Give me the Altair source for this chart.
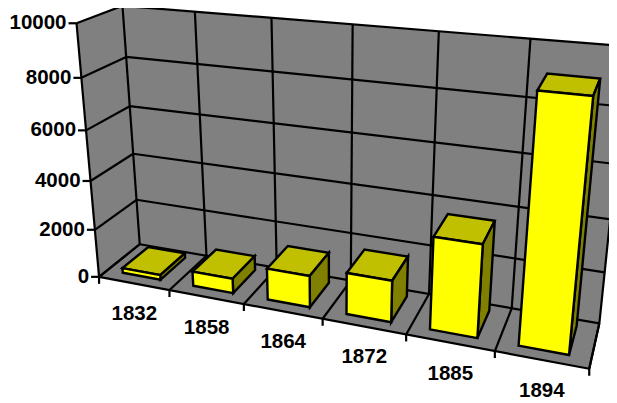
import altair as alt
import numpy as np
import pandas as pd

years = ["1832", "1858", "1864", "1872", "1885", "1894"]
values = [200, 600, 1270, 1640, 3550, 9000]
y_ticks = [0, 2000, 4000, 6000, 8000, 10000]
VMAX = 10000
BAR_U = (0.222, 0.765)
BAR_D = (0.2, 0.85)

# View calibration: (category pos, depth, height) -> page pixel, solved as a pinhole projection
calib = [
    (0, 0, 0, 100, 277), (0, 1, 0, 138, 243), (0, 0, 1, 76, 23), (0, 1, 1, 123, 6),
    (1, 0, 0, 589, 368), (1, 1, 0, 598, 323), (1, 1, 1, 630, 45),
    (1/6, 0, 0, 170, 290), (2/6, 0, 0, 244, 305), (3/6, 0, 0, 322, 318),
    (4/6, 0, 0, 407, 335), (5/6, 0, 0, 494, 352),
    (1/6, 1, 1, 195, 12), (2/6, 1, 1, 272, 18), (3/6, 1, 1, 352, 24),
    (4/6, 1, 1, 438, 32), (5/6, 1, 1, 529, 39),
    (1/6, 1, 0, 205, 255), (2/6, 1, 0, 277, 268), (3/6, 1, 0, 352, 281),
    (4/6, 1, 0, 432, 295), (5/6, 1, 0, 511, 308),
    (0, 0, 0.8, 81, 77), (0, 1, 0.8, 127, 58),
]
A, b = [], []
for u, d, v, px, py in calib:
    p = [u, d, v, 1]
    A.append(p + [0, 0, 0, 0] + [-px * u, -px * d, -px * v])
    A.append([0, 0, 0, 0] + p + [-py * u, -py * d, -py * v])
    b += [px, py]
h = np.linalg.lstsq(np.array(A, float), np.array(b, float), rcond=None)[0]


def proj(u, d, v):
    w = h[8] * u + h[9] * d + h[10] * v + 1
    return ((h[0] * u + h[1] * d + h[2] * v + h[3]) / w,
            (h[4] * u + h[5] * d + h[6] * v + h[7]) / w)


def polys(rows, pid, fill, pts):
    for k, (u, d, v) in enumerate(pts):
        x, y = proj(u, d, v)
        rows.append(dict(x=x, y=y, poly=pid, fill=fill, k=k))


GRAY, YEL, TOP, SIDE = "#808080", "#ffff00", "#c0c000", "#808000"

walls = []
polys(walls, "back", GRAY, [(0, 1, 0), (1, 1, 0), (1, 1, 1), (0, 1, 1)])
polys(walls, "left", GRAY, [(0, 0, 0), (0, 1, 0), (0, 1, 1), (0, 0, 1)])
polys(walls, "floor", GRAY, [(0, 0, 0), (1, 0, 0), (1, 1, 0), (0, 1, 0)])

lines = []


def seg(pid, a, b):
    for k, t in enumerate((a, b)):
        x, y = t
        lines.append(dict(x=x, y=y, line=pid, k=k))


for t in y_ticks:
    v = t / VMAX
    seg(f"hb{t}", proj(0, 1, v), proj(1, 1, v))
    seg(f"hl{t}", proj(0, 0, v), proj(0, 1, v))
    x, y = proj(0, 0, v)
    seg(f"ty{t}", (x - 8, y), (x, y))
for i in range(7):
    u = i / 6
    seg(f"vb{i}", proj(u, 1, 0), proj(u, 1, 1))
    seg(f"fl{i}", proj(u, 0, 0), proj(u, 1, 0))
    x, y = proj(u, 0, 0)
    seg(f"tx{i}", (x, y), (x, y + 7))
seg("front", proj(0, 0, 0), proj(1, 0, 0))
seg("leftfront", proj(0, 0, 0), proj(0, 0, 1))
seg("right", proj(1, 0, 0), proj(1, 1, 0))

bars = []
for i, val in enumerate(values):
    u0, u1 = (i + BAR_U[0]) / 6, (i + BAR_U[1]) / 6
    d0, d1 = BAR_D
    v = val / VMAX
    polys(bars, f"t{i}", TOP, [(u0, d0, v), (u1, d0, v), (u1, d1, v), (u0, d1, v)])
    polys(bars, f"s{i}", SIDE, [(u1, d0, 0), (u1, d1, 0), (u1, d1, v), (u1, d0, v)])
    polys(bars, f"f{i}", YEL, [(u0, d0, 0), (u1, d0, 0), (u1, d0, v), (u0, d0, v)])

ylabels = []
for t in y_ticks:
    x, y = proj(0, 0, t / VMAX)
    ylabels.append(dict(x=x - 10, y=y, t=str(t)))
xlabels = []
for i, yr in enumerate(years):
    x, y = proj((i + 0.5) / 6, 0, 0)
    xlabels.append(dict(x=x + 0.5, y=y + 31, t=yr))

W, H = 601, 393
X = alt.X("x:Q", scale=alt.Scale(domain=[8, 8 + W], range=[0, W], zero=False, nice=False), axis=None)
Y = alt.Y("y:Q", scale=alt.Scale(domain=[8, 8 + H], range=[0, H], zero=False, nice=False), axis=None)


def fill_layer(rows, stroke=None):
    kw = dict(interpolate="linear-closed", strokeJoin="miter")
    if stroke:
        kw.update(stroke=stroke, strokeWidth=2.4)
    else:
        kw.update(strokeWidth=0)
    return alt.Chart(pd.DataFrame(rows)).mark_line(**kw).encode(
        x=X, y=Y, detail="poly:N", order="k:Q", fill=alt.Fill("fill:N", scale=None, legend=None)
    )


grid = alt.Chart(pd.DataFrame(lines)).mark_line(color="black", strokeWidth=2.2).encode(
    x=X, y=Y, detail="line:N", order="k:Q"
)
font = dict(font="Liberation Sans", fontWeight="bold", fontSize=20.5, color="black")
ylab = alt.Chart(pd.DataFrame(ylabels)).mark_text(align="right", baseline="middle", **font).encode(x=X, y=Y, text="t:N")
xlab = alt.Chart(pd.DataFrame(xlabels)).mark_text(align="center", baseline="middle", **font).encode(x=X, y=Y, text="t:N")

chart = alt.layer(fill_layer(walls), grid, fill_layer(bars, "black"), ylab, xlab).properties(
    width=W, height=H, padding=0, autosize=alt.AutoSizeParams(type="none"), background="white"
).configure_view(stroke=None)

chart.save("out.html", embed_options={"renderer": "svg", "actions": False})
